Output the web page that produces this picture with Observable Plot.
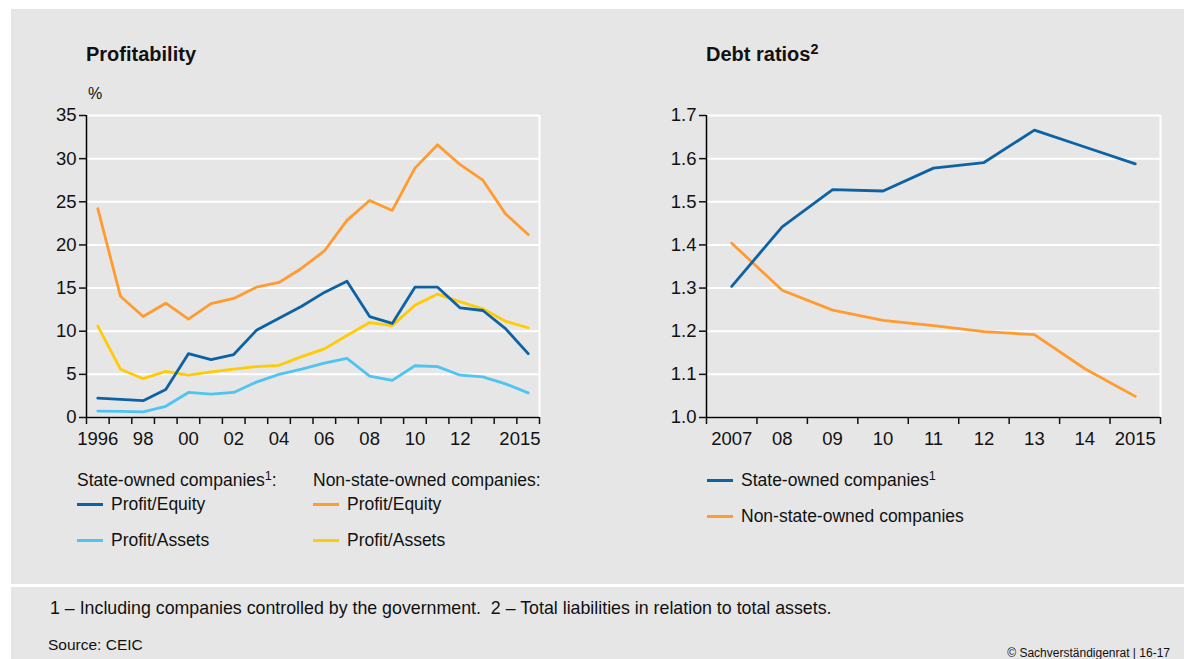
<!DOCTYPE html>
<html>
<head>
<meta charset="utf-8">
<script src="https://cdn.jsdelivr.net/npm/d3@7"></script>
<script src="https://cdn.jsdelivr.net/npm/@observablehq/plot@0.6"></script>
<style>
  html, body { margin: 0; padding: 0; background: #ffffff; }
  body { width: 1184px; height: 659px; position: relative; overflow: hidden; font-family: "Liberation Sans", Arial, sans-serif; color: #111; }
  .panel { position: absolute; background: #e6e6e6; }
  .abs { position: absolute; white-space: nowrap; }
  .title { font-size: 20px; font-weight: bold; line-height: 24px; }
  .leg { font-size: 17.5px; line-height: 22px; }
  .sw { position: absolute; height: 3px; width: 26px; }
  sup { font-size: 0.72em; line-height: 0; vertical-align: 0.5em; }
  #left, #right { position: absolute; }
</style>
</head>
<body>
<div class="panel" style="left:11px; top:9px; width:1173px; height:575px;"></div>
<div class="panel" style="left:11px; top:587px; width:1173px; height:72px;"></div>

<div class="abs title" style="left:86px; top:42px;">Profitability</div>
<div class="abs title" style="left:706px; top:42px;">Debt ratios<sup>2</sup></div>
<div class="abs" style="left:88px; top:84px; font-size:16px; line-height:20px;">%</div>

<div id="left" style="left:40px; top:100px;"></div>
<div id="right" style="left:650px; top:100px;"></div>

<!-- left legend -->
<div class="abs leg" style="left:77px; top:469px;">State-owned companies<sup>1</sup>:</div>
<div class="sw" style="left:77px; top:503px; background:#0d62a3;"></div>
<div class="abs leg" style="left:111px; top:493px;">Profit/Equity</div>
<div class="sw" style="left:77px; top:539px; background:#50c4f0;"></div>
<div class="abs leg" style="left:111px; top:529px;">Profit/Assets</div>
<div class="abs leg" style="left:313px; top:469px;">Non-state-owned companies:</div>
<div class="sw" style="left:313px; top:503px; background:#ff9b30;"></div>
<div class="abs leg" style="left:347px; top:493px;">Profit/Equity</div>
<div class="sw" style="left:313px; top:539px; background:#ffcb05;"></div>
<div class="abs leg" style="left:347px; top:529px;">Profit/Assets</div>

<!-- right legend -->
<div class="sw" style="left:707px; top:479px; background:#0d62a3;"></div>
<div class="abs leg" style="left:741px; top:469px;">State-owned companies<sup>1</sup></div>
<div class="sw" style="left:707px; top:515px; background:#ff9b30;"></div>
<div class="abs leg" style="left:741px; top:505px;">Non-state-owned companies</div>

<!-- footer -->
<div class="abs" style="left:50px; top:597px; font-size:17.8px; line-height:22px;">1 – Including companies controlled by the government.&nbsp; 2 – Total liabilities in relation to total assets.</div>
<div class="abs" style="left:48px; top:635px; font-size:15.5px; line-height:20px;">Source: CEIC</div>
<div class="abs" style="right:14px; top:646px; font-size:12px; line-height:14px;">© Sachverständigenrat | 16-17</div>

<script>
// ---- Data ----
const years = [1996, 1997, 1998, 1999, 2000, 2001, 2002, 2003, 2004, 2005, 2006, 2007, 2008, 2009, 2010, 2011, 2012, 2013, 2014, 2015];
const soeEquity  = [2.25, 2.1, 1.95, 3.25, 7.4, 6.7, 7.3, 10.1, 11.5, 12.9, 14.5, 15.8, 11.7, 10.9, 15.1, 15.1, 12.7, 12.4, 10.3, 7.4];
const soeAssets  = [0.75, 0.7, 0.65, 1.3, 2.9, 2.7, 2.9, 4.1, 5.0, 5.6, 6.3, 6.85, 4.8, 4.3, 6.0, 5.9, 4.9, 4.7, 3.9, 2.85];
const nsoeEquity = [24.2, 14.05, 11.7, 13.25, 11.4, 13.2, 13.8, 15.1, 15.65, 17.3, 19.3, 22.85, 25.15, 24.0, 28.9, 31.6, 29.3, 27.5, 23.6, 21.2];
const nsoeAssets = [10.6, 5.6, 4.5, 5.35, 4.9, 5.3, 5.6, 5.9, 6.05, 7.05, 7.95, 9.5, 11.0, 10.65, 13.0, 14.3, 13.4, 12.6, 11.15, 10.4];

const debtYears = [2007, 2008, 2009, 2010, 2011, 2012, 2013, 2014, 2015];
const soeDebt  = [1.304, 1.442, 1.528, 1.525, 1.578, 1.591, 1.666, 1.627, 1.588];
const nsoeDebt = [1.404, 1.295, 1.249, 1.225, 1.213, 1.199, 1.192, 1.113, 1.049];

const leftTickYears  = [1996, 1998, 2000, 2002, 2004, 2006, 2008, 2010, 2012];
const leftTickLabels = ["1996", "98", "00", "02", "04", "06", "08", "10", "12"];
const leftLastLabel  = "2015";
const leftYTicks = [0, 5, 10, 15, 20, 25, 30, 35];

const rightTickYears  = [2007, 2008, 2009, 2010, 2011, 2012, 2013, 2014, 2015];
const rightTickLabels = ["2007", "08", "09", "10", "11", "12", "13", "14", "2015"];
const rightYTicks = [1.0, 1.1, 1.2, 1.3, 1.4, 1.5, 1.6, 1.7];

// ---- Style ----
const C = { dark: "#0d62a3", light: "#50c4f0", orange: "#ff9b30", yellow: "#ffcb05" };
const font = { fontFamily: "'Liberation Sans', Arial, sans-serif", fontSize: "18.5px", background: "transparent", color: "#111", overflow: "visible" };
const LW = 2.8;

// ---- Left chart ----
const leftBounds = years.map(y => y - 0.5).concat([years[years.length - 1] + 0.5]);
const left = Plot.plot({
  width: 520, height: 350,
  marginLeft: 46, marginRight: 21, marginTop: 15, marginBottom: 33,
  style: font,
  x: { domain: [leftBounds[0], leftBounds[leftBounds.length - 1]], axis: null },
  y: { domain: [0, 35], axis: null },
  marks: [
    Plot.gridY(leftYTicks, { stroke: "white", strokeOpacity: 1, strokeWidth: 2 }),
    Plot.ruleX([leftBounds[leftBounds.length - 1]], { stroke: "white", strokeWidth: 2 }),
    Plot.line(years, { x: d => d, y: (d, i) => nsoeEquity[i], stroke: C.orange, strokeWidth: LW }),
    Plot.line(years, { x: d => d, y: (d, i) => nsoeAssets[i], stroke: C.yellow, strokeWidth: LW }),
    Plot.line(years, { x: d => d, y: (d, i) => soeAssets[i], stroke: C.light, strokeWidth: LW }),
    Plot.line(years, { x: d => d, y: (d, i) => soeEquity[i], stroke: C.dark, strokeWidth: LW }),
    Plot.ruleX([leftBounds[0]], { stroke: "black", strokeWidth: 1.5 }),
    Plot.ruleY([0], { stroke: "black", strokeWidth: 1.5 }),
    Plot.axisY({ ticks: leftYTicks, tickSize: 7, tickPadding: 3, tickFormat: d => d, strokeWidth: 1.5 }),
    Plot.axisX({ ticks: leftBounds, tickSize: 7, tickFormat: () => "", strokeWidth: 1.5 }),
    Plot.axisX({ ticks: leftTickYears, tickSize: 0, tickPadding: 14, tickFormat: d => leftTickLabels[leftTickYears.indexOf(d)] }),
    Plot.axisX({ ticks: [leftBounds[leftBounds.length - 1]], tickSize: 0, tickPadding: 14, textAnchor: "end", dx: 1, tickFormat: () => leftLastLabel })
  ]
});
document.getElementById("left").appendChild(left);

// ---- Right chart ----
const rightBounds = debtYears.map(y => y - 0.5).concat([debtYears[debtYears.length - 1] + 0.5]);
const right = Plot.plot({
  width: 530, height: 350,
  marginLeft: 56, marginRight: 20, marginTop: 15, marginBottom: 33,
  style: font,
  x: { domain: [rightBounds[0], rightBounds[rightBounds.length - 1]], axis: null },
  y: { domain: [1.0, 1.7], axis: null },
  marks: [
    Plot.gridY(rightYTicks, { stroke: "white", strokeOpacity: 1, strokeWidth: 2 }),
    Plot.ruleX([rightBounds[rightBounds.length - 1]], { stroke: "white", strokeWidth: 2 }),
    Plot.line(debtYears, { x: d => d, y: (d, i) => nsoeDebt[i], stroke: C.orange, strokeWidth: LW }),
    Plot.line(debtYears, { x: d => d, y: (d, i) => soeDebt[i], stroke: C.dark, strokeWidth: LW }),
    Plot.ruleX([rightBounds[0]], { stroke: "black", strokeWidth: 1.5 }),
    Plot.ruleY([1.0], { stroke: "black", strokeWidth: 1.5 }),
    Plot.axisY({ ticks: rightYTicks, tickSize: 7, tickPadding: 3, tickFormat: d => d.toFixed(1), strokeWidth: 1.5 }),
    Plot.axisX({ ticks: rightBounds, tickSize: 7, tickFormat: () => "", strokeWidth: 1.5 }),
    Plot.axisX({ ticks: rightTickYears, tickSize: 0, tickPadding: 14, tickFormat: d => rightTickLabels[rightTickYears.indexOf(d)] })
  ]
});
document.getElementById("right").appendChild(right);
</script>
</body>
</html>
